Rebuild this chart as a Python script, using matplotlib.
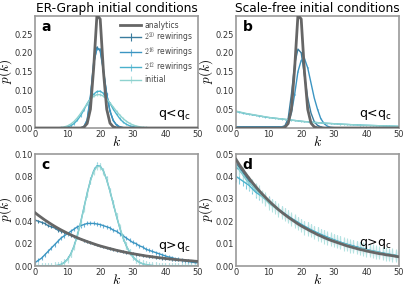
import numpy as np
import matplotlib
matplotlib.use("Agg")
import matplotlib.pyplot as plt

plt.rcParams['font.family'] = ['DejaVu Sans']
plt.rcParams['mathtext.fontset'] = 'cm'

k = np.arange(0, 51)

# --- q < q_c, narrow analytic distribution (panels a, b)
analytics_narrow = [0.0] * 15 + [0.002, 0.012, 0.05, 0.16, 0.30, 0.29, 0.15, 0.05, 0.013, 0.003, 0.0005] + [0.0] * 25

# --- q > q_c, broad analytic distribution (panels c, d)
analytics_broad = [0.0476, 0.0453, 0.0432, 0.0411, 0.0392, 0.0373, 0.0355, 0.0338, 0.0322, 0.0307,
                   0.0292, 0.0278, 0.0265, 0.0252, 0.0240, 0.0229, 0.0218, 0.0208, 0.0198, 0.0188,
                   0.0179, 0.0171, 0.0163, 0.0155, 0.0148, 0.0140, 0.0134, 0.0127, 0.0121, 0.0115,
                   0.0110, 0.0105, 0.0100, 0.0095, 0.0090, 0.0086, 0.0082, 0.0078, 0.0074, 0.0071,
                   0.0067, 0.0064, 0.0061, 0.0058, 0.0055, 0.0053, 0.0050, 0.0048, 0.0046, 0.0043, 0.0041]

# ER initial degree distribution
initial_er = [0.0] * 6 + [0.0002, 0.0005, 0.0013, 0.0029, 0.0058, 0.0106, 0.0176, 0.0271, 0.0387, 0.0516,
                          0.0646, 0.0760, 0.0844, 0.0888, 0.0888, 0.0846, 0.0769, 0.0669, 0.0557, 0.0446,
                          0.0343, 0.0254, 0.0181, 0.0125, 0.0083, 0.0054, 0.0034, 0.0020, 0.0012, 0.0007,
                          0.0004, 0.0002, 0.0001] + [0.0] * 12

# scale-free initial degree distribution
initial_sf = [0.045, 0.043, 0.041, 0.039, 0.037, 0.036, 0.034, 0.033, 0.031, 0.030,
              0.028, 0.027, 0.026, 0.025, 0.024, 0.023, 0.022, 0.021, 0.020, 0.019,
              0.018, 0.017, 0.0165, 0.0158, 0.015, 0.0143, 0.0137, 0.013, 0.0125, 0.012,
              0.0114, 0.0109, 0.0104, 0.0099, 0.0095, 0.009, 0.0086, 0.0082, 0.0079, 0.0075,
              0.0072, 0.0069, 0.0066, 0.0063, 0.006, 0.0057, 0.0054, 0.0052, 0.005, 0.0047, 0.0045]

# panel a
a_r20 = [0.0] * 15 + [0.003, 0.02, 0.08, 0.17, 0.215, 0.205, 0.15, 0.09, 0.045, 0.02, 0.008, 0.003, 0.001] + [0.0] * 23
a_r16 = [0.0] * 15 + [0.004, 0.022, 0.085, 0.175, 0.21, 0.21, 0.155, 0.09, 0.045, 0.02, 0.008, 0.003, 0.001] + [0.0] * 23
a_r12 = [0.0] * 9 + [0.001, 0.003, 0.006, 0.012, 0.021, 0.033, 0.048, 0.065, 0.079, 0.09, 0.097,
                     0.098, 0.092, 0.08, 0.066, 0.05, 0.037, 0.025, 0.016, 0.01, 0.006, 0.004, 0.002, 0.001] + [0.0] * 18

# panel b
b_r20 = [0.003] * 15 + [0.006, 0.025, 0.09, 0.17, 0.21, 0.2, 0.14, 0.08, 0.04, 0.017, 0.007, 0.003, 0.001] + [0.0] * 23
b_r16 = [0.003] * 15 + [0.004, 0.012, 0.04, 0.09, 0.15, 0.18, 0.185, 0.16, 0.12, 0.08, 0.05, 0.025, 0.012, 0.005, 0.002, 0.001] + [0.0] * 20
b_r12 = [0.044, 0.042, 0.040, 0.038, 0.037, 0.035, 0.034, 0.032, 0.031, 0.029,
         0.028, 0.027, 0.026, 0.025, 0.024, 0.023, 0.022, 0.021, 0.020, 0.019,
         0.018, 0.017, 0.0165, 0.0157, 0.015, 0.0143, 0.0136, 0.013, 0.0124, 0.0119,
         0.0114, 0.0109, 0.0104, 0.0099, 0.0095, 0.009, 0.0086, 0.0082, 0.0079, 0.0075,
         0.0072, 0.0069, 0.0066, 0.0063, 0.006, 0.0057, 0.0054, 0.0052, 0.005, 0.0047, 0.0045]

# panel c
c_r20 = [0.041, 0.040, 0.039, 0.038, 0.036, 0.035, 0.034, 0.032, 0.031, 0.030,
         0.029, 0.0275, 0.0263, 0.025, 0.024, 0.0228, 0.0217, 0.0207, 0.0197, 0.0188,
         0.0179, 0.017, 0.0162, 0.0154, 0.0147, 0.014, 0.0133, 0.0127, 0.0121, 0.0115,
         0.011, 0.0104, 0.0099, 0.0094, 0.009, 0.0086, 0.0082, 0.0078, 0.0074, 0.007,
         0.0067, 0.0064, 0.0061, 0.0058, 0.0055, 0.0052, 0.005, 0.0047, 0.0045, 0.0043, 0.0041]
c_r16 = [0.003, 0.005, 0.007, 0.010, 0.013, 0.016, 0.019, 0.022, 0.025, 0.027,
         0.029, 0.031, 0.033, 0.035, 0.036, 0.037, 0.038, 0.038, 0.038, 0.0375,
         0.037, 0.036, 0.035, 0.034, 0.032, 0.031, 0.029, 0.027, 0.025, 0.023,
         0.021, 0.020, 0.018, 0.017, 0.015, 0.014, 0.013, 0.012, 0.011, 0.010,
         0.009, 0.008, 0.0075, 0.0065, 0.006, 0.005, 0.0045, 0.004, 0.0035, 0.003, 0.0028]
c_r12 = [0.0] * 6 + [0.0002, 0.0006, 0.0015, 0.0032, 0.0062, 0.011, 0.018, 0.0275, 0.039, 0.052,
                     0.065, 0.0765, 0.085, 0.0895, 0.0892, 0.0848, 0.077, 0.0668, 0.0556, 0.0444,
                     0.034, 0.0252, 0.018, 0.0124, 0.0082, 0.0053, 0.0033, 0.002, 0.0012, 0.0007,
                     0.0004, 0.0002, 0.0001] + [0.0] * 12

# panel d
d_r20 = [0.046, 0.044, 0.042, 0.040, 0.038, 0.037, 0.035, 0.0335, 0.032, 0.0305,
         0.029, 0.0278, 0.0265, 0.0253, 0.0242, 0.0231, 0.022, 0.021, 0.020, 0.0191,
         0.0182, 0.0174, 0.0166, 0.0158, 0.0151, 0.0144, 0.0137, 0.0131, 0.0125, 0.0119,
         0.0114, 0.0108, 0.0103, 0.0098, 0.0094, 0.009, 0.0086, 0.0082, 0.0078, 0.0074,
         0.0071, 0.0068, 0.0064, 0.0061, 0.0058, 0.0056, 0.0053, 0.0051, 0.0048, 0.0046, 0.0044]
d_r16 = [0.044, 0.043, 0.041, 0.039, 0.037, 0.036, 0.034, 0.033, 0.0315, 0.030,
         0.0288, 0.0276, 0.0264, 0.0253, 0.0242, 0.0232, 0.0222, 0.0212, 0.0203, 0.0194,
         0.0185, 0.0177, 0.0169, 0.0161, 0.0154, 0.0147, 0.014, 0.0134, 0.0128, 0.0122,
         0.0117, 0.0111, 0.0106, 0.0101, 0.0097, 0.0093, 0.0089, 0.0085, 0.0081, 0.0077,
         0.0073, 0.007, 0.0067, 0.0064, 0.0061, 0.0058, 0.0055, 0.0052, 0.005, 0.0047, 0.0045]
d_r12 = [0.040, 0.039, 0.038, 0.037, 0.036, 0.0345, 0.033, 0.032, 0.031, 0.0298,
         0.0286, 0.0275, 0.0264, 0.0253, 0.0243, 0.0233, 0.0223, 0.0213, 0.0204, 0.0195,
         0.0186, 0.0178, 0.017, 0.0162, 0.0155, 0.0148, 0.0141, 0.0135, 0.0129, 0.0123,
         0.0117, 0.0112, 0.0107, 0.0102, 0.0097, 0.0093, 0.0089, 0.0085, 0.0081, 0.0077,
         0.0074, 0.007, 0.0067, 0.0064, 0.0061, 0.0058, 0.0055, 0.0052, 0.005, 0.0047, 0.0045]

# error bar half-widths per series
err_a = [0.002, 0.002, 0.003, 0.003]
err_b = [0.001, 0.001, 0.0015, 0.0015]
err_c = [0.0012, 0.0018, 0.003, 0.003]
err_d = [0.0015, 0.002, 0.0025, 0.003]

labels = ["$2^{20}$ rewirings", "$2^{16}$ rewirings", "$2^{12}$ rewirings", "initial"]
colors = ["#3a7c9e", "#3b95c2", "#4ab1cc", "#8ed2cf"]
ecolors = ["#3a7c9e", "#6cb3d6", "#7cc8dc", "#b5e3e0"]

panels = [
    ("a", analytics_narrow, [a_r20, a_r16, a_r12, initial_er], err_a, 0.298, [0, 0.05, 0.10, 0.15, 0.20, 0.25], "q<q$_\\mathregular{c}$", 0.05),
    ("b", analytics_narrow, [b_r20, b_r16, b_r12, initial_sf], err_b, 0.298, [0, 0.05, 0.10, 0.15, 0.20, 0.25], "q<q$_\\mathregular{c}$", 0.05),
    ("c", analytics_broad, [c_r20, c_r16, c_r12, initial_er], err_c, 0.10, [0, 0.02, 0.04, 0.06, 0.08, 0.10], "q>q$_\\mathregular{c}$", 0.11),
    ("d", analytics_broad, [d_r20, d_r16, d_r12, initial_sf], err_d, 0.05, [0, 0.01, 0.02, 0.03, 0.04, 0.05], "q>q$_\\mathregular{c}$", 0.13),
]

fig = plt.figure(figsize=(4.15, 2.88), dpi=100)
W, H = 415, 288
boxes = [(35, 16, 198, 128), (236, 16, 399, 128), (35, 154, 198, 266), (236, 154, 399, 266)]

for (letter, analytic, series, errs, ytop, yticks, qtext, qy), (x0, y0, x1, y1) in zip(panels, boxes):
    ax = fig.add_axes([x0 / W, 1 - y1 / H, (x1 - x0) / W, (y1 - y0) / H])
    ax.plot(k, analytic, color="#666666", lw=2, label="analytics", zorder=5)
    for ys, e, lab, c, ec in zip(series, errs, labels, colors, ecolors):
        ax.errorbar(k, ys, yerr=e, color=c, ecolor=ec, lw=1, elinewidth=0.8, label=lab)
    ax.set_xlim(0, 50)
    ax.set_ylim(0, ytop)
    ax.set_yticks(yticks)
    ax.set_xticks([0, 10, 20, 30, 40, 50])
    ax.tick_params(labelsize=6, length=0, pad=1.5, colors="#333333")
    ax.set_yticklabels(["%.2f" % t for t in yticks])
    for s in ax.spines.values():
        s.set_color("#999999")
        s.set_linewidth(1.2)
    ax.set_xlabel("$k$", fontsize=10, labelpad=-3)
    ax.set_ylabel("$p(k)$", fontsize=9.5, labelpad=0.2)
    ax.text(0.04, 0.96, letter, transform=ax.transAxes, fontsize=10, fontweight="bold", va="top", ha="left")
    ax.text(0.96, qy, qtext, transform=ax.transAxes, fontsize=9, va="bottom", ha="right")
    if letter == "a":
        leg = ax.legend(loc="upper right", fontsize=5.5, frameon=False, handlelength=2.8, borderaxespad=0.4,
                        labelspacing=0.05, handletextpad=0.4, borderpad=0.2)
        for t in leg.get_texts():
            t.set_color("#444444")
        ax.set_title("ER-Graph initial conditions", fontsize=8.7, pad=3)
    if letter == "b":
        ax.set_title("Scale-free initial conditions", fontsize=8.7, pad=3)

fig.savefig("out.png", dpi=100)
